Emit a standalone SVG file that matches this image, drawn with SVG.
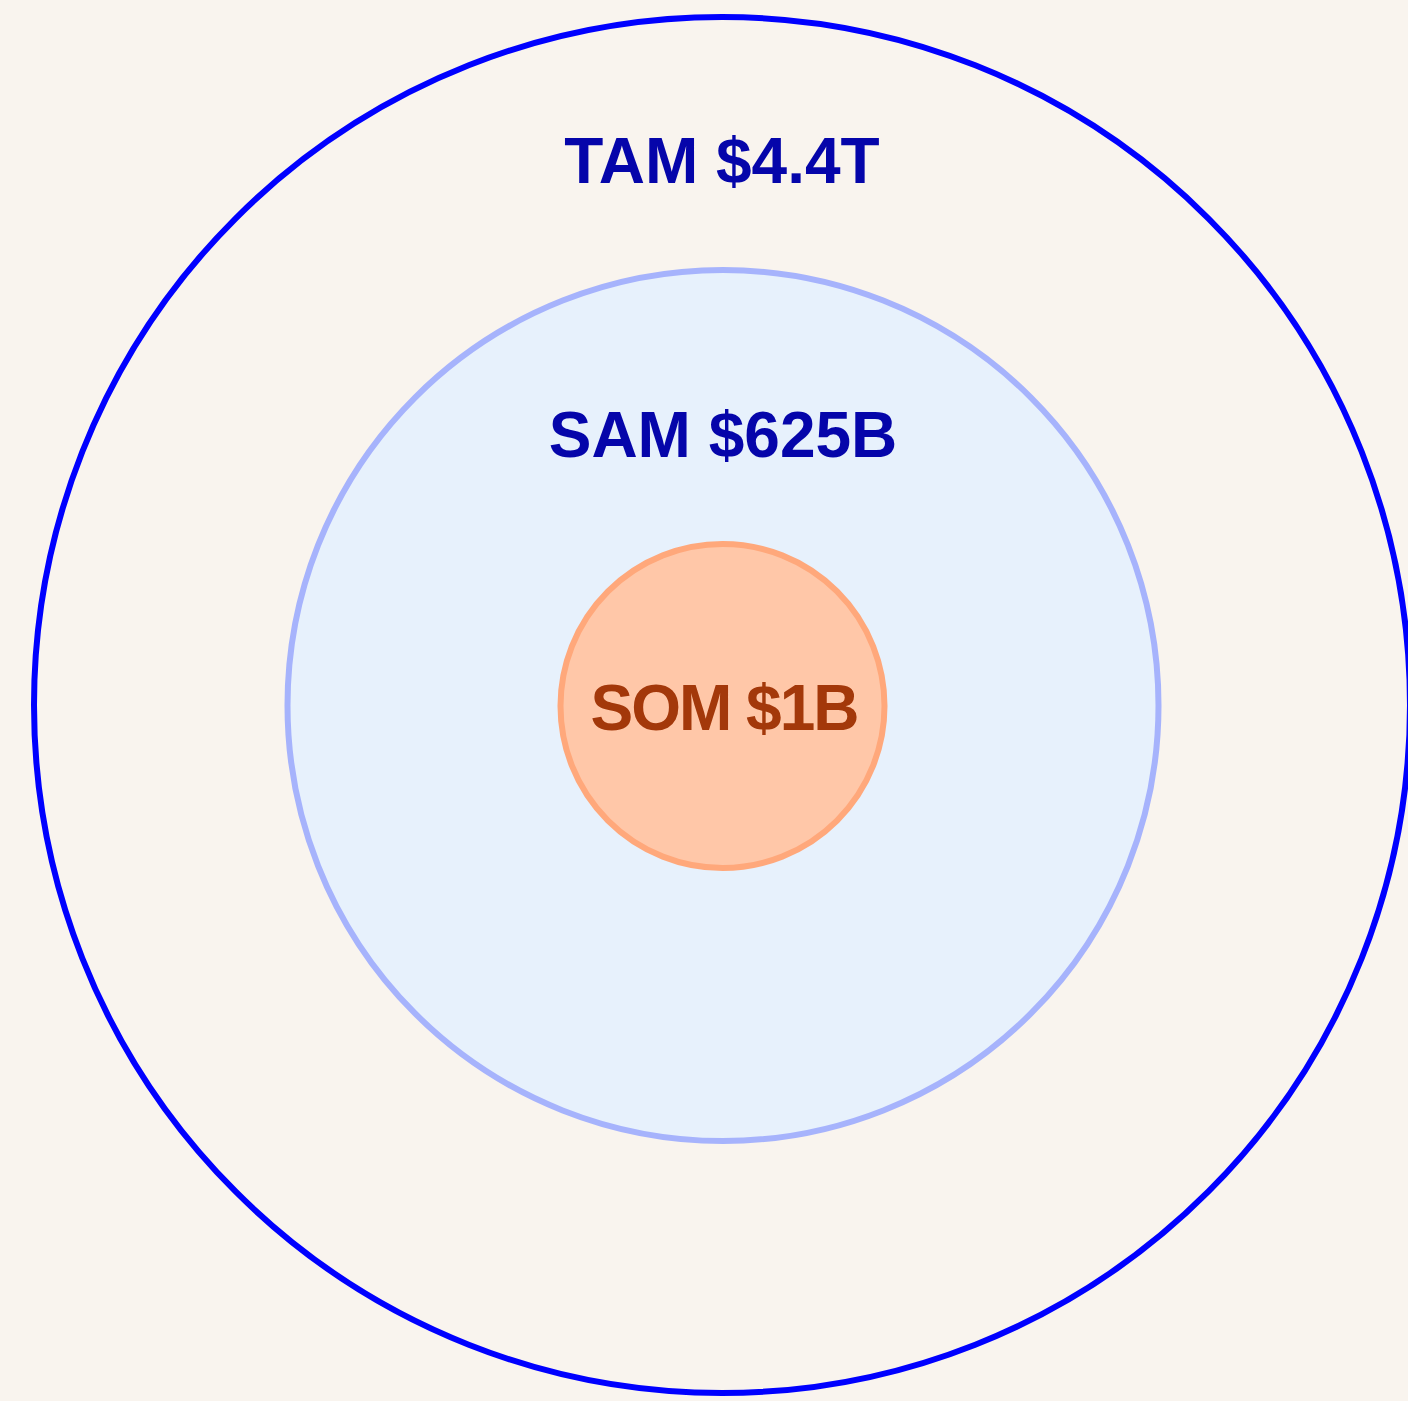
<svg xmlns="http://www.w3.org/2000/svg" width="1408" height="1401" viewBox="0 0 1408 1401">
<style>
.lbl{font-family:"Liberation Sans",Arial,sans-serif;font-weight:bold;font-size:64px;text-anchor:middle}
.blue{fill:#0505AA}
.orange{fill:#A3380A}
</style>
<rect width="1408" height="1401" fill="#F9F4EE"/>
<g id="tam">
<circle cx="722" cy="705" r="688" fill="#F9F4EE" stroke="#0000FF" stroke-width="6"/>
<text class="lbl blue" x="722" y="183">TAM $4.4T</text>
</g>
<g id="sam">
<circle cx="723" cy="705.5" r="435.5" fill="#E7F1FC" stroke="#A6B3FC" stroke-width="6"/>
<text class="lbl blue" x="723" y="457">SAM $625B</text>
</g>
<g id="som">
<circle cx="722.5" cy="706" r="162" fill="#FFC7A8" stroke="#FFA87B" stroke-width="6"/>
<text class="lbl orange" x="724" y="730" letter-spacing="-2">SOM $1B</text>
</g>
<g id="connectors"/>
</svg>
